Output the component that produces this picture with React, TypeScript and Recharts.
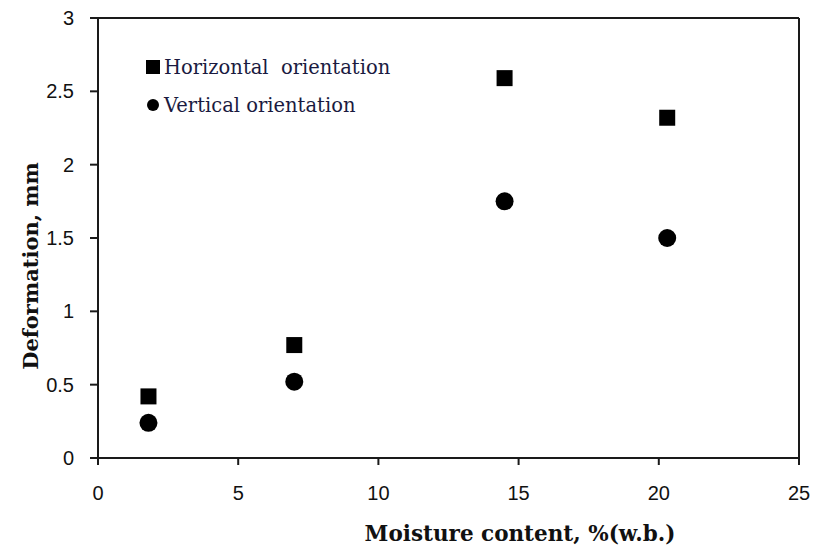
import { ScatterChart, Scatter, XAxis, YAxis, ReferenceLine } from 'recharts';

// moisture content, %(w.b.)
const moisture = [1.8, 7.0, 14.5, 20.3];
// deformation, mm
const horizontalDeformation = [0.42, 0.77, 2.59, 2.32];
const verticalDeformation = [0.24, 0.52, 1.75, 1.5];

const xTicks = [0, 5, 10, 15, 20, 25];
const yTicks = [0, 0.5, 1, 1.5, 2, 2.5, 3];

const horizontalData = moisture.map((m, i) => ({ x: m, y: horizontalDeformation[i] }));
const verticalData = moisture.map((m, i) => ({ x: m, y: verticalDeformation[i] }));

const axisColor = '#1a1a1a';
const tickStyle = { fill: '#111', fontSize: 20, fontFamily: 'Liberation Sans, Arial, sans-serif' };
const titleFont = 'DejaVu Serif, serif';

const SquareDot = (props: any) => (
  <rect x={props.cx - 8} y={props.cy - 8} width={16} height={16} fill="#000" />
);
const CircleDot = (props: any) => <circle cx={props.cx} cy={props.cy} r={9} fill="#000" />;

function LegendBox() {
  const row = {
    display: 'flex',
    alignItems: 'center',
    fontFamily: titleFont,
    fontSize: 19.5,
    color: '#1a1a40',
    height: 22,
  } as const;
  return (
    <div style={{ position: 'absolute', left: 146, top: 56 }}>
      <div style={row}>
        <span style={{ width: 14, height: 14, background: '#000', marginRight: 4 }} />
        Horizontal&nbsp; orientation
      </div>
      <div style={{ ...row, marginTop: 16 }}>
        <span style={{ width: 12, height: 12, borderRadius: '50%', background: '#000', marginRight: 5, marginLeft: 1 }} />
        Vertical orientation
      </div>
    </div>
  );
}

const YTitle = () => (
  <text
    x={30}
    y={266}
    transform="rotate(-90 30 266)"
    textAnchor="middle"
    dominantBaseline="central"
    style={{ fontFamily: titleFont, fontWeight: 'bold', fontSize: 21, fill: '#111' }}
  >
    Deformation, mm
  </text>
);

const XTitle = () => (
  <text
    x={520}
    y={533}
    textAnchor="middle"
    dominantBaseline="central"
    style={{ fontFamily: titleFont, fontWeight: 'bold', fontSize: 21.5, fill: '#111' }}
  >
    Moisture content, %(w.b.)
  </text>
);

export default function App() {
  return (
    <div style={{ position: 'absolute', left: 0, top: 0, width: 813, height: 551, background: '#fff' }}>
      <ScatterChart width={813} height={551} margin={{ top: 18, right: 14, left: 38, bottom: 43 }}>
        <XAxis
          type="number"
          dataKey="x"
          domain={[0, 25]}
          ticks={xTicks}
          tick={tickStyle}
          tickLine={{ stroke: axisColor, strokeWidth: 2 }}
          tickSize={7}
          tickMargin={21}
          axisLine={{ stroke: axisColor, strokeWidth: 2 }}
          height={50}
          label={<XTitle />}
        />
        <YAxis
          type="number"
          dataKey="y"
          domain={[0, 3]}
          ticks={yTicks}
          tick={tickStyle}
          tickLine={{ stroke: axisColor, strokeWidth: 2 }}
          tickSize={8}
          tickMargin={16}
          axisLine={{ stroke: axisColor, strokeWidth: 2 }}
          width={60}
          label={<YTitle />}
        />
        <ReferenceLine y={3} stroke={axisColor} strokeWidth={2} />
        <ReferenceLine x={25} stroke={axisColor} strokeWidth={2} />
        <Scatter
          name="Horizontal orientation"
          data={horizontalData}
          shape={SquareDot}
          isAnimationActive={false}
        />
        <Scatter
          name="Vertical orientation"
          data={verticalData}
          shape={CircleDot}
          isAnimationActive={false}
        />
      </ScatterChart>
      <LegendBox />
    </div>
  );
}
